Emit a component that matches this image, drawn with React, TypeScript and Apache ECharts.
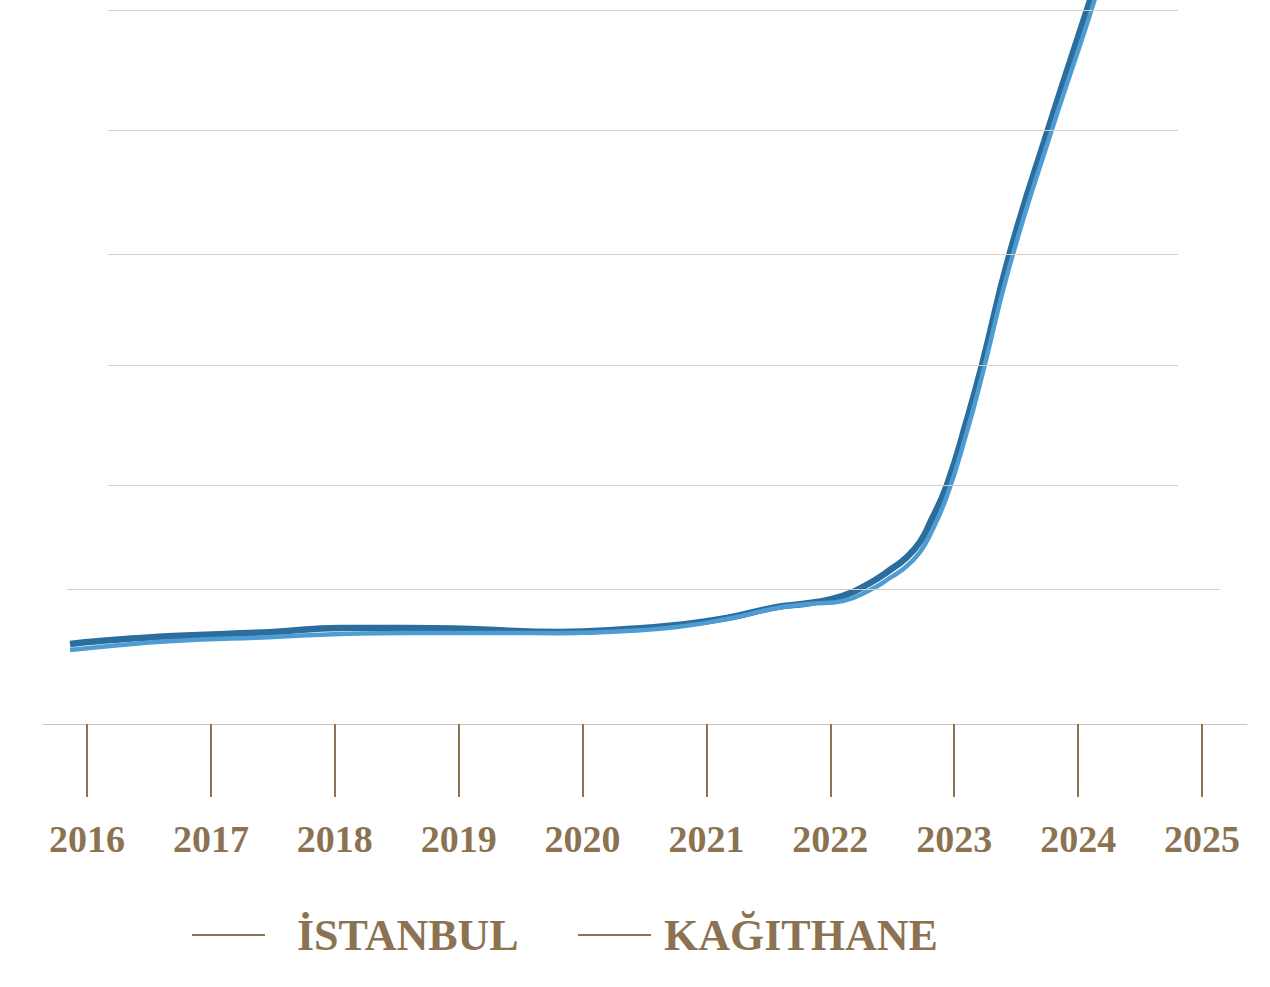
import React, { useEffect, useRef } from "react";
import * as echarts from "echarts";

// Decimal-year positions of the sampled points along the curves
const years = [
  2015.863, 2016.105, 2016.694, 2017.501, 2018.042, 2018.583, 2019.091, 2019.818,
  2020.358, 2020.762, 2021.165, 2021.569, 2021.835, 2022.102, 2022.32, 2022.481,
  2022.618, 2022.723, 2022.804, 2022.941, 2023.102, 2023.224, 2023.449, 2023.756,
  2024.071, 2024.152,
];

// İSTANBUL (dark blue)
const istanbul = [
  6.72, 6.97, 7.39, 7.73, 8.07, 8.07, 7.98, 7.73,
  7.98, 8.32, 8.91, 9.83, 10.17, 10.76, 11.85, 12.94,
  14.03, 15.29, 16.89, 20.08, 25.55, 30.17, 39.58, 49.92,
  60.0, 62.52,
];

// KAĞITHANE (light blue)
const kagithane = [
  6.22, 6.47, 6.97, 7.31, 7.56, 7.65, 7.65, 7.65,
  7.82, 8.15, 8.82, 9.75, 10.08, 10.34, 11.26, 12.27,
  13.28, 14.45, 15.88, 19.16, 24.54, 29.24, 38.57, 48.91,
  58.82, 61.51,
];

const tickYears = [2016, 2017, 2018, 2019, 2020, 2021, 2022, 2023, 2024, 2025];
const gridValues = [11.34, 20.08, 30.17, 39.5, 49.92, 60.0];
const seriesNames = ["İSTANBUL", "KAĞITHANE"];

const BROWN = "#8b7352";
const GRID = "#d6cfc5";

export default function App() {
  const ref = useRef<HTMLDivElement>(null);

  useEffect(() => {
    if (!ref.current) return;
    const chart = echarts.init(ref.current, undefined, { renderer: "svg" });

    const gridMarks = gridValues.map((v, i) => {
      const wide = i === 0;
      return [
        { coord: [wide ? 2015.839 : 2016.17, v] },
        { coord: [wide ? 2025.144 : 2024.806, v] },
      ];
    });

    const legendBase = {
      top: 913,
      padding: 0,
      icon: "rect",
      itemWidth: 73,
      itemHeight: 2,
      itemStyle: { color: BROWN },
    };

    const option: any = {
      animation: false,
      backgroundColor: "#ffffff",
      grid: { left: 43, right: 23, top: 0, bottom: 263, containLabel: false },
      xAxis: {
        type: "value",
        min: 2015.645,
        max: 2025.363,
        axisLine: { show: true, lineStyle: { color: "#cdc6bb", width: 1 } },
        axisTick: {
          show: true,
          customValues: tickYears,
          length: 73,
          lineStyle: { color: BROWN, width: 2 },
        },
        axisLabel: {
          show: true,
          customValues: tickYears,
          formatter: (v: number) => String(Math.round(v)),
          margin: 96,
          fontSize: 38,
          fontWeight: "bold",
          fontFamily: "Liberation Serif",
          color: BROWN,
        },
        splitLine: { show: false },
      },
      yAxis: {
        type: "value",
        min: 0,
        max: 60.84,
        show: false,
        splitLine: { show: false },
      },
      legend: [
        {
          ...legendBase,
          data: [seriesNames[0]],
          left: 192,
          textStyle: {
            fontSize: 44,
            fontWeight: "bold",
            fontFamily: "Liberation Serif",
            color: BROWN,
            padding: [0, 0, 0, 27],
          },
        },
        {
          ...legendBase,
          data: [seriesNames[1]],
          left: 578,
          textStyle: {
            fontSize: 44,
            fontWeight: "bold",
            fontFamily: "Liberation Serif",
            color: BROWN,
            padding: [0, 0, 0, 8],
          },
        },
      ],
      series: [
        {
          type: "line",
          name: "grid",
          data: [],
          z: 1,
          silent: true,
          markLine: {
            silent: true,
            symbol: ["none", "none"],
            label: { show: false },
            lineStyle: { color: GRID, width: 1, type: "solid" },
            data: gridMarks,
          },
        },
        {
          type: "line",
          name: seriesNames[0],
          data: years.map((y, i) => [y, istanbul[i]]),
          smooth: 0.5,
          showSymbol: false,
          z: 3,
          lineStyle: { color: "#2b6d9c", width: 6.5 },
          itemStyle: { color: "#2b6d9c" },
        },
        {
          type: "line",
          name: seriesNames[1],
          data: years.map((y, i) => [y, kagithane[i]]),
          smooth: 0.5,
          showSymbol: false,
          z: 4,
          lineStyle: { color: "#4d9dd4", width: 4.5 },
          itemStyle: { color: "#4d9dd4" },
        },
      ],
    };

    chart.setOption(option);
    return () => chart.dispose();
  }, []);

  return (
    <div
      ref={ref}
      style={{ position: "fixed", left: 0, top: 0, width: 1270, height: 987, background: "#fff" }}
    />
  );
}
